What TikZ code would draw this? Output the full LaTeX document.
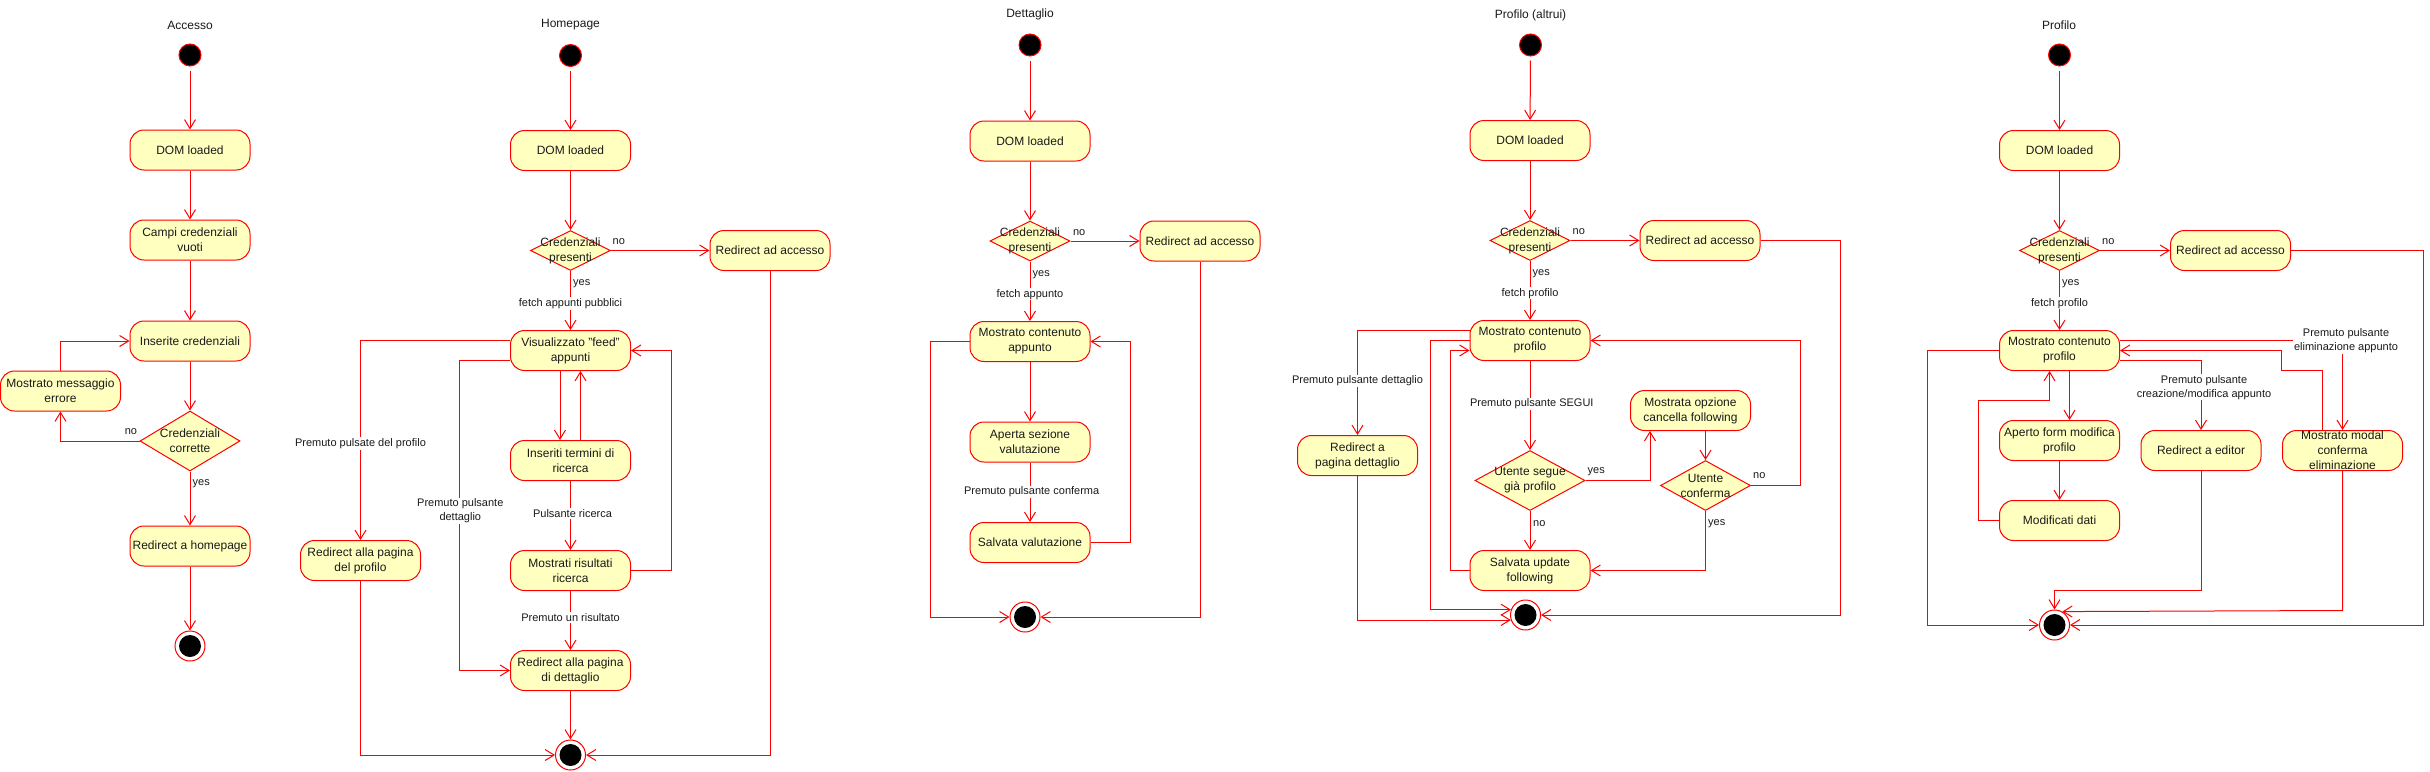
\documentclass[tikz,border=0pt]{standalone}
\usepackage{fontspec}
\setmainfont{Liberation Sans}
\usetikzlibrary{arrows.meta,shapes.geometric,calc}
\definecolor{actfill}{HTML}{FFFFC0}
\definecolor{umlred}{HTML}{FF0000}
\definecolor{txt}{HTML}{1A1A1A}
\newcommand{\nfont}{\fontsize{12}{15}\selectfont}
\newcommand{\lfont}{\fontsize{11}{14}\selectfont}
\begin{document}
\begin{tikzpicture}[x=1pt,y=-1pt,
  act/.style={draw=umlred, fill=actfill, line width=1pt, rounded corners=14pt, minimum width=120pt, minimum height=40pt, inner sep=0pt, align=center, font=\nfont, text=txt},
  dec/.style={draw=umlred, fill=actfill, line width=1pt, diamond, inner sep=0pt, minimum width=80pt, minimum height=40pt},
  startst/.style={circle, draw=umlred, fill=black, line width=1pt, minimum size=22pt, inner sep=0pt},
  endst/.style={circle, draw=umlred, fill=white, line width=1pt, minimum size=30pt, inner sep=0pt, path picture={\fill[black] (path picture bounding box.center) circle (11pt);}},
  arr/.style={draw=umlred, line width=1pt, -{Straight Barb[length=9pt,width=11pt]}},
  lbl/.style={font=\lfont, text=txt, fill=white, inner sep=1pt, align=center},
  tag/.style={font=\lfont, text=txt, inner sep=0.5pt},
  ttl/.style={font=\nfont, text=txt},
  dtxt/.style={font=\nfont, text=txt, align=center, inner sep=0pt}
]
\fill[white] (0,0) rectangle (2430,771);
\useasboundingbox (0,0) rectangle (2430,771);

% ================= Accesso =================
\node[ttl] (tA) at (190,25) {Accesso};
\node[startst] (sA) at (190,55) {};
\node[act] (a1) at (190,150) {DOM loaded};
\node[act] (a2) at (190,240) {Campi credenziali\\vuoti};
\node[act] (a3) at (190,341) {Inserite credenziali};
\node[act] (a4) at (60.5,391) {Mostrato messaggio\\errore};
\node[dec, minimum width=100pt, minimum height=60pt] (aD) at (190,441) {};
\node[dtxt] (aDt) at (aD) {Credenziali\\corrette};
\node[act] (a5) at (190,546) {Redirect a homepage};
\node[endst] (eA) at (190,646) {};
\draw[arr, shorten <=4pt] (sA) -- (a1);
\draw[arr] (a1) -- (a2);
\draw[arr] (a2) -- (a3);
\draw[arr] (a3) -- (aD);
\draw[arr] (aD) -- (a5);
\draw[arr] (a5) -- (eA);
\draw[arr] (aD.west) -| (a4.south);
\draw[arr] (a4.north) |- (a3.west);
\node[tag] (lA1) at (131,432) {no};
\node[tag, anchor=west] (lA2) at (192,484) {yes};

% ================= Homepage =================
\node[ttl] (tH) at (570.5,25) {Homepage};
\node[startst] (sH) at (570.5,55.5) {};
\node[act] (h1) at (570.5,150.5) {DOM loaded};
\node[dec] (hD) at (570.5,250.5) {};
\node[dtxt] (hDt) at (hD) {Credenziali\\presenti};
\node[act] (h2) at (770,250.5) {Redirect ad accesso};
\node[act] (h3) at (570.5,350.5) {Visualizzato "feed"\\appunti};
\node[act] (h4) at (570.5,460.5) {Inseriti termini di\\ricerca};
\node[act] (h5) at (570.5,570.5) {Mostrati risultati\\ricerca};
\node[act] (h6) at (570.5,670.5) {Redirect alla pagina\\di dettaglio};
\node[act] (h7) at (360.5,560.5) {Redirect alla pagina\\del profilo};
\node[endst] (eH) at (570.5,755) {};
\draw[arr, shorten <=4pt] (sH) -- (h1);
\draw[arr] (h1) -- (hD);
\draw[arr] (hD) -- (h2);
\draw[arr] (hD) -- (h3);
\draw[arr] ([yshift=10.5pt]h3.west) -| (h7.north);
\draw[arr] ([yshift=-9.5pt]h3.west) -- ++(-50.2,0) |- (h6.west);
\draw[arr] ([xshift=-10.5pt]h3.south) -- ([xshift=-10.5pt]h4.north);
\draw[arr] ([xshift=10pt]h4.north) -- ([xshift=10pt]h3.south);
\draw[arr] (h4) -- (h5);
\draw[arr] (h5.east) -- ++(40,0) |- (h3.east);
\draw[arr] (h5) -- (h6);
\draw[arr] (h6) -- (eH);
\draw[arr] (h7.south) |- (eH.west);
\draw[arr] (h2.south) |- (eH.east);
\node[tag, anchor=west] (lH1) at (612,241.5) {no};
\node[tag, anchor=west] (lH2) at (572.5,283.5) {yes};
\node[lbl] (lH3) at (570.5,303.5) {fetch appunti pubblici};
\node[lbl] (lH4) at (360.5,443.5) {Premuto pulsate del profilo};
\node[lbl] (lH5) at (460.3,511) {Premuto pulsante\\dettaglio};
\node[lbl] (lH6) at (572.5,513.5) {Pulsante ricerca};
\node[lbl] (lH7) at (570.5,617.5) {Premuto un risultato};

% ================= Dettaglio =================
\node[ttl] (tD) at (1030,14.5) {Dettaglio};
\node[startst] (sD) at (1030,45) {};
\node[act] (d1) at (1030,141) {DOM loaded};
\node[dec] (dD) at (1030,241) {};
\node[dtxt] (dDt) at (dD) {Credenziali\\presenti};
\node[act] (d2) at (1200,241) {Redirect ad accesso};
\node[act] (d3) at (1030,341.5) {Mostrato contenuto\\appunto};
\node[act] (d4) at (1030,442) {Aperta sezione\\valutazione};
\node[act] (d5) at (1030,542.5) {Salvata valutazione};
\node[endst] (eD) at (1025,617) {};
\draw[arr, shorten <=4pt] (sD) -- (d1);
\draw[arr] (d1) -- (dD);
\draw[arr] (dD) -- (d2);
\draw[arr] (dD) -- (d3);
\draw[arr] (d3) -- (d4);
\draw[arr] (d4) -- (d5);
\draw[arr] (d5.east) -- ++(40,0) |- (d3.east);
\draw[arr] (d3.west) -- ++(-39.3,0) |- (eD.west);
\draw[arr] (d2.south) |- (eD.east);
\node[tag, anchor=west] (lD1) at (1072.3,232.5) {no};
\node[tag, anchor=west] (lD2) at (1032,274.5) {yes};
\node[lbl] (lD3) at (1030,294.3) {fetch appunto};
\node[lbl] (lD4) at (1031.7,491.8) {Premuto pulsante conferma};

% ================= Profilo (altrui) =================
\node[ttl] (tP) at (1530.5,15) {Profilo (altrui)};
\node[startst] (sP) at (1530.5,45) {};
\node[act] (p1) at (1530,140.5) {DOM loaded};
\node[dec] (pD) at (1530,240.5) {};
\node[dtxt] (pDt) at (pD) {Credenziali\\presenti};
\node[act] (p2) at (1700,240.5) {Redirect ad accesso};
\node[act] (p3) at (1530,340.5) {Mostrato contenuto\\profilo};
\node[act] (p4) at (1357.5,455.5) {Redirect a\\pagina dettaglio};
\node[dec, minimum width=110pt, minimum height=60pt] (pD2) at (1530,480.5) {};
\node[dtxt] (pD2t) at (pD2) {Utente segue\\già profilo};
\node[act] (p5) at (1690.5,410.5) {Mostrata opzione\\cancella following};
\node[dec, minimum width=90pt, minimum height=50pt] (pD3) at (1705.5,485.5) {};
\node[dtxt] (pD3t) at (pD3) {Utente\\conferma};
\node[act] (p6) at (1530,570.5) {Salvata update\\following};
\node[endst] (eP) at (1525.5,615) {};
\draw[arr, shorten <=4pt] (sP) -- (p1);
\draw[arr] (p1) -- (pD);
\draw[arr] (pD) -- (p2);
\draw[arr] (pD) -- (p3);
\draw[arr] (p2.east) -- ++(80,0) |- (eP.east);
\draw[arr] ([yshift=10pt]p3.west) -| (p4.north);
\draw[arr] (p3.west) -- ++(-39.3,0) |- (eP.160.5);
\draw[arr] (p4.south) |- (eP.199.5);
\draw[arr] (p6.west) -- ++(-19.3,0) |- ([yshift=-10pt]p3.west);
\draw[arr] (p3) -- (pD2);
\draw[arr] (pD2.east) -| ([xshift=-40.5pt]p5.south);
\draw[arr] (pD2) -- (p6);
\draw[arr] ([xshift=15pt]p5.south) -- (pD3.north);
\draw[arr] (pD3.east) -- ++(49.3,0) |- (p3.east);
\draw[arr] (pD3.south) |- (p6.east);
\node[tag, anchor=west] (lP1) at (1572,231.7) {no};
\node[tag, anchor=west] (lP2) at (1532,273.3) {yes};
\node[lbl] (lP3) at (1530,293.3) {fetch profilo};
\node[lbl] (lP4) at (1357.5,381) {Premuto pulsante dettaglio};
\node[lbl] (lP5) at (1531.8,404) {Premuto pulsante SEGUI};
\node[tag, anchor=west] (lP6) at (1587,471.3) {yes};
\node[tag, anchor=west] (lP7) at (1532.5,523.3) {no};
\node[tag, anchor=west] (lP8) at (1752.5,476) {no};
\node[tag, anchor=west] (lP9) at (1707.5,523.3) {yes};

% ================= Profilo =================
\node[ttl] (tR) at (2059,25) {Profilo};
\node[startst] (sR) at (2059.5,55) {};
\node[act] (r1) at (2059.5,150.5) {DOM loaded};
\node[dec] (rD) at (2059.5,250.5) {};
\node[dtxt] (rDt) at (rD) {Credenziali\\presenti};
\node[act] (r2) at (2230.5,250.5) {Redirect ad accesso};
\node[act] (r3) at (2059.5,350.5) {Mostrato contenuto\\profilo};
\node[act] (r4) at (2059.5,440.5) {Aperto form modifica\\profilo};
\node[act] (r5) at (2059.5,520.5) {Modificati dati};
\node[act] (r6) at (2201,450.5) {Redirect a editor};
\node[act] (r7) at (2342.5,450.5) {};
\node[dtxt] (r7t) at (r7) {Mostrato modal\\conferma\\eliminazione};
\node[endst] (eR) at (2054.5,625) {};
\draw[arr, shorten <=4pt] (sR) -- (r1);
\draw[arr] (r1) -- (rD);
\draw[arr] (rD) -- (r2);
\draw[arr] (rD) -- (r3);
\draw[arr] (r2.east) -- ++(132.5,0) |- (eR.east);
\draw[arr] (r3.west) -- ++(-71.6,0) |- (eR.west);
\draw[arr] ([xshift=10pt]r3.south) -- ([xshift=10pt]r4.north);
\draw[arr] (r4) -- (r5);
\draw[arr] (r5.west) -- ++(-21,0) -- ++(0,-120.5) -| ([xshift=-10pt]r3.south);
\draw[arr] ([yshift=10pt]r3.east) -| (r7.north);
\draw[arr] ([xshift=-20.5pt]r7.north) |- (2281.8,370.5) |- (r3.east);
\draw[arr] ([yshift=-10pt]r3.east) -| (r6.north);
\draw[arr] (r6.south) -- ++(0,119.5) -| (eR.north);
\draw[arr] (r7.south) -- ++(0,139.5) -- (eR.60);
\node[tag, anchor=west] (lR1) at (2101.5,241.3) {no};
\node[tag, anchor=west] (lR2) at (2061.5,283.3) {yes};
\node[lbl] (lR3) at (2059.5,303.3) {fetch profilo};
\node[lbl] (lR4) at (2346,341) {Premuto pulsante\\eliminazione appunto};
\node[lbl] (lR5) at (2204,387.3) {Premuto pulsante\\creazione/modifica appunto};
\end{tikzpicture}
\end{document}
